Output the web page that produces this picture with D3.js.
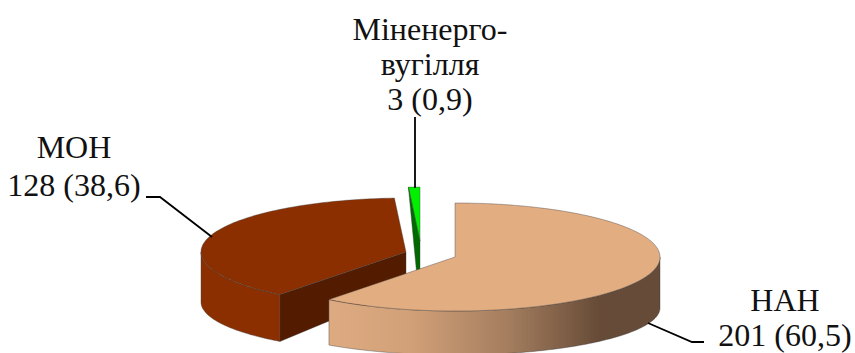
<!DOCTYPE html>
<html>
<head>
<meta charset="utf-8">
<script src="https://cdnjs.cloudflare.com/ajax/libs/d3/7.8.5/d3.min.js"></script>
<style>
  html, body { margin: 0; background: #fff; }
  svg { display: block; }
  text { font-family: "Liberation Serif", serif; font-size: 32px; fill: #111; text-anchor: middle; }
</style>
</head>
<body>
<svg id="chart" width="855" height="353"></svg>
<script>
const categories = ["НАН", "МОН", "Міненерго"];
const counts = [201, 128, 3];
const labelLines = [
  ["НАН", "201 (60,5)"],
  ["МОН", "128 (38,6)"],
  ["Міненерго-", "вугілля", "3 (0,9)"]
];

const width = 855, height = 353;
const rx = 205, ry = 54;

// every slice is pulled out of the pie on its own, so each one has its own centre
const sliceStyle = {
  "НАН": { cx: 455, cy: 257, depth: 51, ryBottom: 47, top: "#e3ad82", edge: "#6e5240" },
  "МОН": { cx: 406, cy: 252, depth: 50, ryBottom: 50, apexDepth: 37, top: "#8b2f00", wall: "#8b2f00", face: "#521c00" },
  "Міненерго": { cx: 420, cy: 241, depth: 67, top: "#00f000", face: "#006a00" }
};

const svg = d3.select("#chart").attr("viewBox", [0, 0, width, height]);
const defs = svg.append("defs");

defs.append("filter").attr("id", "soft")
  .append("feGaussianBlur").attr("stdDeviation", 0.35);

const grad = defs.append("linearGradient")
  .attr("id", "nanWall")
  .attr("gradientUnits", "userSpaceOnUse")
  .attr("x1", 328).attr("x2", 600).attr("y1", 0).attr("y2", 0);
grad.append("stop").attr("offset", "0%").attr("stop-color", "#deab81");
grad.append("stop").attr("offset", "30%").attr("stop-color", "#d2a078");
grad.append("stop").attr("offset", "65%").attr("stop-color", "#a67f60");
grad.append("stop").attr("offset", "100%").attr("stop-color", "#664b37");

const pie = d3.pie().sort(null).startAngle(0).endAngle(2 * Math.PI);
const slices = pie(counts);

const line = d3.line();

function rim(s, a, rY = ry, dy = 0) {
  return [s.cx + rx * Math.sin(a), s.cy + dy - rY * Math.cos(a)];
}

function arcPoints(s, a0, a1, rY, dy) {
  const n = Math.max(2, Math.ceil(Math.abs(a1 - a0) / 0.02));
  return d3.range(n + 1).map(i => rim(s, a0 + (a1 - a0) * i / n, rY, dy));
}

const g = svg.append("g").attr("filter", "url(#soft)")
  .attr("stroke", "#3a3a3a").attr("stroke-width", 0.6).attr("stroke-opacity", 0.65)
  .attr("stroke-linejoin", "round");

function drawWall(s, a0, a1, fill) {
  const front = arcPoints(s, a0, a1, ry, 0);
  const back = arcPoints(s, a1, a0, s.ryBottom, s.depth);
  g.append("path").attr("d", line(front.concat(back)) + "Z").attr("fill", fill);
}

function drawTop(s, a0, a1) {
  g.append("path")
    .attr("d", line([[s.cx, s.cy]].concat(arcPoints(s, a0, a1, ry, 0))) + "Z")
    .attr("fill", s.top);
}

// back to front: green sliver, then МОН, then НАН on top of both
const [nan, mon, min] = slices;

{
  const s = sliceStyle[categories[2]];
  const r = rim(s, min.startAngle);
  g.append("path")
    .attr("d", line([[s.cx, s.cy], r, rim(s, min.endAngle)]) + "Z")
    .attr("fill", s.top);
  g.append("path")
    .attr("d", line([r, [s.cx, s.cy], [s.cx, s.cy + s.depth]]) + "Z")
    .attr("fill", s.face);
}

{
  const s = sliceStyle[categories[1]];
  const r = rim(s, mon.startAngle);
  g.append("path")
    .attr("d", line([[s.cx, s.cy], r, rim(s, mon.startAngle, s.ryBottom, s.depth), [s.cx, s.cy + s.apexDepth]]) + "Z")
    .attr("fill", s.face);
  drawWall(s, mon.startAngle, 1.5 * Math.PI, s.wall);
  drawTop(s, mon.startAngle, mon.endAngle);
}

{
  const s = sliceStyle[categories[0]];
  drawWall(s, 0.5 * Math.PI, nan.endAngle, "url(#nanWall)");
  drawTop(s, nan.startAngle, nan.endAngle);
}

// leader lines, label end to slice
const leaders = [
  [[704, 342], [692, 342], [648, 323]],
  [[146, 197], [160, 197], [212, 237]],
  [[415, 117], [415, 188]]
];
svg.append("g").attr("fill", "none").attr("stroke", "#000").attr("stroke-width", 1.8)
  .selectAll("path").data(leaders).join("path").attr("d", line);

const labelPos = [
  { x: 785, y: 311 },
  { x: 74, y: 158 },
  { x: 430, y: 40 }
];
const lineGap = [35, 38, 35];

labelLines.forEach((lines, i) => {
  lines.forEach((t, j) => {
    svg.append("text")
      .attr("x", labelPos[i].x)
      .attr("y", labelPos[i].y + j * lineGap[i])
      .text(t);
  });
});
</script>
</body>
</html>
